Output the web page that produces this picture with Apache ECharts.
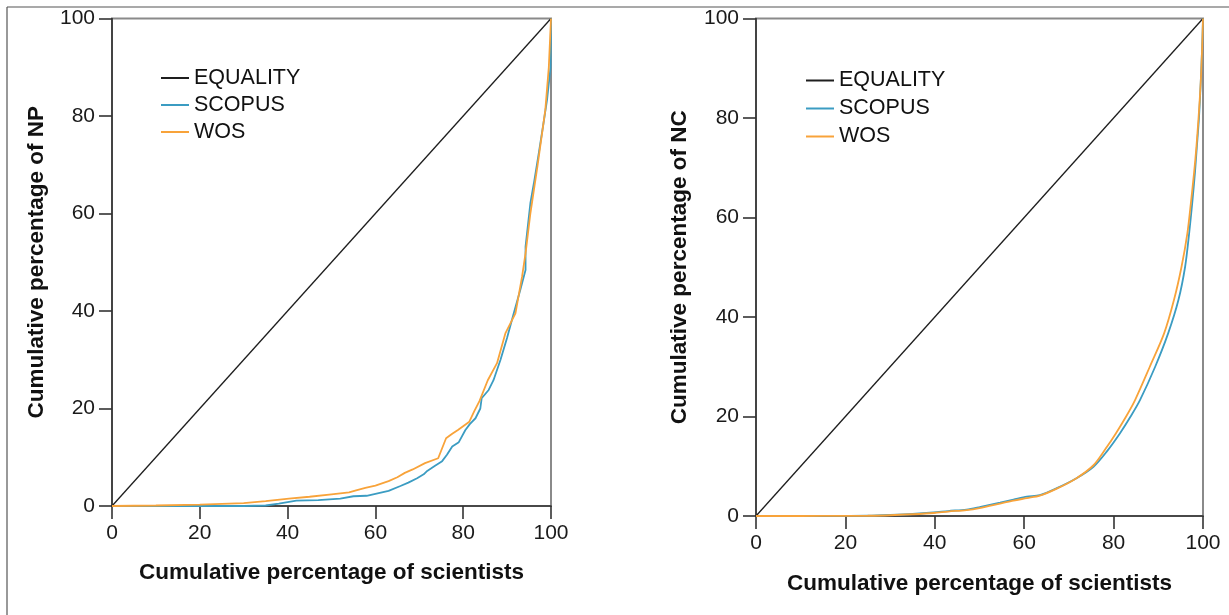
<!DOCTYPE html>
<html><head><meta charset="utf-8">
<script src="https://cdn.jsdelivr.net/npm/echarts@6/dist/echarts.min.js"></script>
<style>html,body{margin:0;padding:0;background:#fff}#c{width:1229px;height:615px}</style>
</head><body><div id="c"></div>
<script>
const ticks = [0, 20, 40, 60, 80, 100];
const seriesNames = ['EQUALITY', 'SCOPUS', 'WOS'];
const equalityX = [0, 100];
const equalityY = [0, 100];

const npScopusX = [0,10,20,30,35,38,42,47,52,55,58,61,63,65.7,67.5,69.5,71,71.8,73.5,75.2,76.3,77.5,79,80.5,81.5,82.8,83.9,84.2,85.8,86.9,88.5,90,91.5,93,94.2,94.2,95.3,96.1,97.2,98.2,99.1,99.9,100];
const npScopusY = [0,0,0,0,0.1,0.5,1.1,1.2,1.5,2,2.1,2.7,3.1,4.1,4.8,5.7,6.5,7.2,8.2,9.2,10.5,12.2,13.1,15.6,16.8,18,20,22.1,23.8,25.8,30,34.5,39.5,44.3,48.4,53.2,62.1,66.2,72.3,78,83.3,90,100];
const npWosX = [0,10,20,30,35,40.3,45,50,54,55.6,57.7,60,63,65,66.7,68.5,71.3,74.3,76.1,77.5,78.8,81.4,82.5,83.7,85.6,87.7,89.6,91.9,93.4,94.2,95.3,96.9,98.7,99.5,100];
const npWosY = [0,0.1,0.3,0.6,1,1.5,1.9,2.4,2.8,3.2,3.7,4.2,5.1,5.9,6.8,7.5,8.8,9.8,13.9,14.8,15.6,17.3,19.4,21.5,25.8,29.3,35.4,39.5,47,51.8,60,69.6,81.2,90,100];

const ncScopusX = [0,10,20,25,30,35,39.7,43,47.1,50,54.6,57.6,60.6,63.5,67.3,71.7,75.5,78.5,81.4,83.8,85.9,89.3,92.2,94.5,96.0,96.9,97.6,98.2,98.6,99.1,99.5,99.8,100];
const ncScopusY = [0,0,0.02,0.05,0.2,0.4,0.7,1,1.3,1.8,2.7,3.3,3.9,4.2,5.6,7.6,9.9,13,16.6,20,23.3,30,36.7,43.4,50.1,56.8,63,69,73.9,80,87.3,94,100];
const ncWosX = [0,10,20,25,30,35,39.7,43,47.1,50,54.6,57.6,60.6,63.5,67.3,71.7,75.5,78.2,80.5,82.8,84.8,88.1,91.3,93.5,95.2,96.5,97.3,98.0,98.5,99.0,99.5,99.8,100];
const ncWosY = [0,0,0.02,0.05,0.15,0.35,0.6,0.9,1.2,1.6,2.5,3.1,3.6,4.1,5.5,7.6,10.2,13.5,16.6,20,23.3,30,36.7,43.4,50.1,56.8,63,69,73.9,80,87.3,94,100];

const xTitle = 'Cumulative percentage of scientists';
const yTitles = ['Cumulative percentage of NP', 'Cumulative percentage of NC'];

const zip = (a, b) => a.map((v, i) => [v, b[i]]);
const FONT = '"Liberation Sans", Arial, sans-serif';
const colors = { EQUALITY: '#1e1e1e', SCOPUS: '#3b9cc2', WOS: '#f8a33a' };

function xAxis(gi, gap) {
  return {
    type: 'value', gridIndex: gi, min: 0, max: 100, interval: 20,
    name: xTitle, nameLocation: 'middle', nameGap: gap,
    nameTextStyle: { fontFamily: FONT, fontSize: 22.5, fontWeight: 'bold', color: '#111' },
    axisLine: { show: true, lineStyle: { color: '#333', width: 1.6 } },
    axisTick: { show: true, length: 13, lineStyle: { color: '#333', width: 1.6 } },
    axisLabel: { fontFamily: FONT, fontSize: 21, color: '#1a1a1a', margin: 17,
      formatter: v => ticks.includes(v) ? String(v) : '' },
    splitLine: { show: false }
  };
}
function yAxis(gi, name, gap) {
  return {
    type: 'value', gridIndex: gi, min: 0, max: 100, interval: 20,
    name: name, nameLocation: 'middle', nameGap: gap,
    nameTextStyle: { fontFamily: FONT, fontSize: 22.5, fontWeight: 'bold', color: '#111' },
    axisLine: { show: true, lineStyle: { color: '#333', width: 1.6 } },
    axisTick: { show: true, length: 13, lineStyle: { color: '#333', width: 1.6 } },
    axisLabel: { fontFamily: FONT, fontSize: 21, color: '#1a1a1a', margin: 17,
      formatter: v => ticks.includes(v) ? String(v) : '' },
    splitLine: { show: false }
  };
}
function line(name, gi, data, w, smooth) {
  return {
    type: 'line', name: name, xAxisIndex: gi, yAxisIndex: gi, data: data,
    showSymbol: false, symbol: 'none', smooth: smooth || false,
    lineStyle: { color: colors[name], width: w }, itemStyle: { color: colors[name] },
    animation: false, z: name === 'EQUALITY' ? 2 : (name === 'SCOPUS' ? 3 : 4)
  };
}
function legend(left, top, gap) {
  return {
    orient: 'vertical', left: left, top: top, data: seriesNames, padding: 0,
    icon: 'rect', itemWidth: 28, itemHeight: 2, itemGap: gap,
    textStyle: { fontFamily: FONT, fontSize: 21.5, color: '#111', lineHeight: 22 },
    selectedMode: false
  };
}

const chart = echarts.init(document.getElementById('c'), null, { renderer: 'canvas' });
chart.setOption({
  animation: false,
  backgroundColor: '#fff',
  grid: [
    { left: 112, top: 18.5, width: 439, height: 487.5, show: true, borderColor: '#8a8a8a', borderWidth: 2 },
    { left: 756, top: 18.5, width: 447, height: 497.5, show: true, borderColor: '#8a8a8a', borderWidth: 2 }
  ],
  xAxis: [xAxis(0, 55), xAxis(1, 56)],
  yAxis: [yAxis(0, yTitles[0], 64), yAxis(1, yTitles[1], 65)],
  legend: [legend(161, 67, 5), legend(806, 69.5, 6)],
  series: [
    line('EQUALITY', 0, zip(equalityX, equalityY), 1.3),
    line('SCOPUS', 0, zip(npScopusX, npScopusY), 1.8),
    line('WOS', 0, zip(npWosX, npWosY), 1.8),
    line('EQUALITY', 1, zip(equalityX, equalityY), 1.3),
    line('SCOPUS', 1, zip(ncScopusX, ncScopusY), 1.8, 0.3),
    line('WOS', 1, zip(ncWosX, ncWosY), 1.8, 0.3)
  ],
  graphic: [
    { type: 'line', shape: { x1: 7, y1: 7, x2: 1229, y2: 7 }, style: { stroke: '#555', lineWidth: 1.2 } },
    { type: 'line', shape: { x1: 7, y1: 7, x2: 7, y2: 615 }, style: { stroke: '#555', lineWidth: 1.2 } }
  ]
});
</script></body></html>
